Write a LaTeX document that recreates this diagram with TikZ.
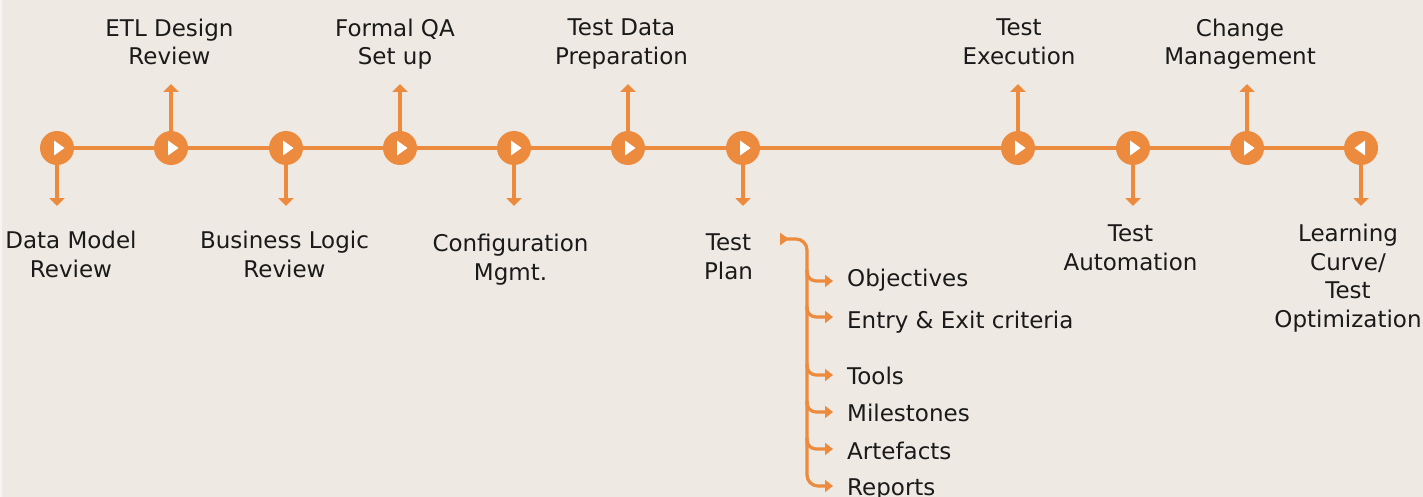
\documentclass[tikz,border=0pt]{standalone}
\usepackage{fontspec}
\setmainfont{DejaVu Sans}
\usetikzlibrary{arrows.meta}
\definecolor{bg}{HTML}{EEE9E3}
\definecolor{orng}{HTML}{EC8A3D}
\definecolor{ink}{HTML}{1A1A1A}
\begin{document}
\begin{tikzpicture}[x=1pt,y=-1pt,
  dot/.style={circle,fill=orng,minimum size=34pt,inner sep=0pt},
  conn/.style={draw=orng,line width=3.2pt},
  stem/.style={conn,-{Triangle[width=15pt,length=8pt]}},
  branch/.style={conn,rounded corners=9pt,-{Triangle[width=12pt,length=8pt]}},
  lbl/.style={font=\fontsize{23}{28.5}\selectfont,text=ink,align=center,inner sep=0pt,anchor=north},
  item/.style={font=\fontsize{23}{28.5}\selectfont,text=ink,inner sep=0pt,anchor=base west}]
\useasboundingbox (0,0) rectangle (1423,497);
\fill[bg] (0,0) rectangle (1423,497);
\fill[white!50!bg] (0,0) rectangle (1.5,497);

% milestones
\foreach \i/\x in {1/57,2/171,3/286,4/400,5/514,6/628,7/743,8/1018,9/1133,10/1247,11/1361}
  \node[dot] (c\i) at (\x,148) {};
\draw[conn] (c1) -- (c11);
\foreach \i in {1,...,10}
  \fill[white] (c\i.center) ++(-3,-7.5) -- ++(0,15) -- ++(10.5,-7.5) -- cycle;
\fill[white] (c11.center) ++(4,-7.5) -- ++(0,15) -- ++(-10.5,-7.5) -- cycle;

% stem ends
\foreach \i/\x in {1/57,3/286,5/514,7/743,9/1133,11/1361}
  \coordinate (e\i) at (\x,206);
\foreach \i/\x in {2/171,4/400,6/628,8/1018,10/1247}
  \coordinate (e\i) at (\x,84);
\foreach \i in {1,...,11}
  \draw[stem] (c\i) -- (e\i);

% labels
\node[lbl] (dm)  at (71,231)    {Data Model\\Review};
\node[lbl] (etl) at (169.5,18.7) {ETL Design\\Review};
\node[lbl] (bl)  at (284.5,231) {Business Logic\\Review};
\node[lbl] (qa)  at (395,18.7)  {Formal QA\\Set up};
\node[lbl] (cfg) at (510.5,234) {Configuration\\Mgmt.};
\node[lbl] (tdp) at (621.5,18.7) {Test Data\\Preparation};
\node[lbl] (tp)  at (728.5,234) {Test\\Plan};
\node[lbl] (te)  at (1019,18.7) {Test\\Execution};
\node[lbl] (ta)  at (1130.5,225) {Test\\Automation};
\node[lbl] (cm)  at (1240,18.7) {Change\\Management};
\node[lbl] (lc)  at (1348,224)  {Learning\\Curve/\\Test\\Optimization};

% test plan items
\node[item] (i1) at (847,286)   {Objectives};
\node[item] (i2) at (847,328.3) {Entry \& Exit criteria};
\node[item] (i3) at (847,384)   {Tools};
\node[item] (i4) at (847,421.7) {Milestones};
\node[item] (i5) at (847,459)   {Artefacts};
\node[item] (i6) at (847,495)   {Reports};

\coordinate (ts) at (780,239);
\coordinate (b1) at (833,281);
\coordinate (b2) at (833,317);
\coordinate (b3) at (833,375);
\coordinate (b4) at (833,412);
\coordinate (b5) at (833,449);
\coordinate (b6) at (833,486);

\draw[conn,rounded corners=11pt,{Triangle[reversed,width=12pt,length=9pt]}-{Triangle[width=12pt,length=8pt]}]
  (ts) -- (807,239) -- (807,486) -- (b6);
\foreach \j in {1,...,5}
  \draw[branch] (b\j) ++(-26,-11) |- (b\j);
\end{tikzpicture}
\end{document}
